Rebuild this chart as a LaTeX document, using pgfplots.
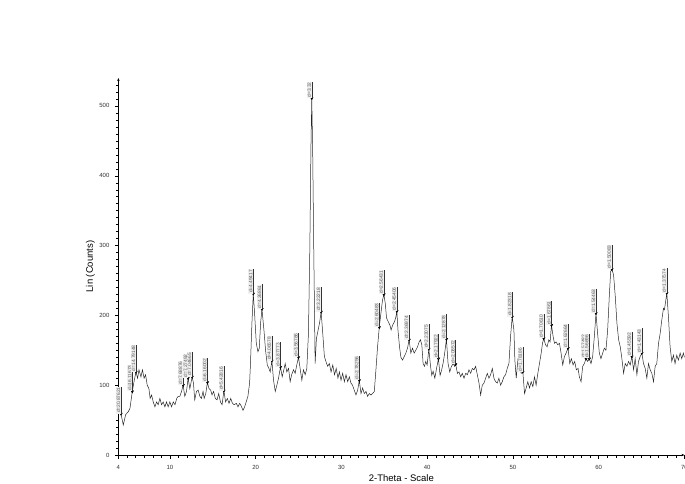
\documentclass[border=0pt]{standalone}
\usepackage{pgfplots}
\pgfplotsset{compat=1.18}
\usepackage{fontspec}
\setmainfont{Liberation Sans}
\usetikzlibrary{arrows.meta}
\begin{document}
\begin{tikzpicture}
\path[use as bounding box] (-118.4pt,-28pt) rectangle (566.6pt,455pt);
\begin{axis}[
  scale only axis, width=566pt, height=377pt,
  xmin=4, xmax=70, ymin=0, ymax=540,
  axis x line=bottom, axis y line=left,
  axis line style={black, line width=0.6pt, -{Stealth[length=3pt,width=2.4pt]}},
  xtick={4,10,20,30,40,50,60,70}, ytick={0,100,200,300,400,500},
  minor xtick={5,6,...,69}, minor ytick={10,20,...,530},
  tick align=outside,
  major tick length=3.5pt, minor tick length=2.5pt,
  tick style={black, line width=0.4pt},
  /pgf/number format/assume math mode=true,
  ticklabel style={font=\fontsize{6}{7}\selectfont, text=black!80},
  xticklabel style={yshift=-3pt},
  yticklabel style={xshift=-2pt},
  xlabel={2-Theta - Scale}, ylabel={Lin (Counts)},
  label style={font=\fontsize{9.5}{11}\selectfont},
  xlabel style={at={(axis description cs:0.5,-0.061)}, anchor=center},
  ylabel style={at={(axis description cs:-0.0495,0.5)}, anchor=center},
  clip=false,
]
\addplot[black!85, line width=0.5pt] coordinates {
(4.0,62) (4.3,59) (4.57,43) (4.85,58) (5.15,62) (5.35,67) (5.62,91) (5.85,107)
(6.05,119) (6.24,110) (6.4,122) (6.63,112) (6.8,122) (7.0,110) (7.17,115) (7.36,100)
(7.56,95) (7.7,81) (7.87,86) (8.06,76) (8.26,69) (8.45,76) (8.64,72) (8.84,81)
(9.03,72) (9.22,76) (9.42,69) (9.61,76) (9.8,69) (10.0,76) (10.2,69) (10.4,76)
(10.6,72) (10.8,81) (10.97,84) (11.16,84) (11.36,91) (11.55,100) (11.74,84) (11.94,91)
(12.13,110) (12.33,95) (12.6,112) (12.75,103) (12.9,79) (13.1,91) (13.3,93) (13.5,84)
(13.68,81) (13.87,91) (14.0,81) (14.19,88) (14.38,104) (14.57,95) (14.76,93) (14.92,86)
(15.1,91) (15.3,81) (15.5,79) (15.7,88) (15.9,76) (16.09,72) (16.3,92) (16.5,76)
(16.7,81) (16.9,74) (17.1,81) (17.3,74) (17.5,72) (17.75,74) (17.94,69) (18.14,74)
(18.33,70) (18.53,64) (18.72,69) (18.9,76) (19.1,84) (19.3,103) (19.4,131) (19.57,189)
(19.73,231) (19.88,203) (20.08,160) (20.27,148) (20.43,153) (20.58,189) (20.74,209) (20.97,179)
(21.16,150) (21.36,129) (21.55,124) (21.7,119) (21.9,135) (22.09,107) (22.29,91) (22.48,100)
(22.67,110) (22.9,126) (23.1,112) (23.29,122) (23.45,131) (23.64,119) (23.84,124) (24.03,105)
(24.2,115) (24.42,122) (24.61,117) (24.8,129) (25.0,140) (25.19,124) (25.39,107) (25.58,122)
(25.78,115) (25.97,124) (26.16,174) (26.32,294) (26.45,440) (26.55,511) (26.66,430) (26.78,294)
(26.94,131) (27.09,167) (27.29,179) (27.48,191) (27.64,205) (27.83,174) (28.02,141) (28.2,134)
(28.4,127) (28.6,131) (28.8,119) (29.0,129) (29.2,115) (29.4,124) (29.6,110) (29.77,119)
(29.96,107) (30.15,117) (30.35,105) (30.54,115) (30.74,105) (30.93,112) (31.12,103) (31.3,100)
(31.5,93) (31.7,86) (31.9,93) (32.09,107) (32.29,88) (32.48,96) (32.67,88) (32.87,91)
(33.06,84) (33.26,88) (33.45,86) (33.64,88) (33.84,91) (34.03,122) (34.22,155) (34.42,183)
(34.61,203) (34.8,222) (34.96,230) (35.12,217) (35.27,196) (35.47,191) (35.66,186) (35.8,179)
(35.97,186) (36.2,191) (36.36,198) (36.47,206) (36.6,179) (36.78,155) (36.94,140) (37.13,136)
(37.33,141) (37.52,146) (37.71,153) (37.9,165) (38.1,146) (38.29,153) (38.49,146) (38.68,150)
(38.88,155) (39.07,162) (39.22,165) (39.38,158) (39.53,131) (39.69,127) (39.84,134) (40.0,129)
(40.2,152) (40.39,128) (40.54,114) (40.7,120) (40.9,110) (41.1,124) (41.32,138) (41.51,114)
(41.7,122) (41.9,134) (42.09,150) (42.25,166) (42.44,131) (42.64,119) (42.83,127) (43.06,131)
(43.2,127) (43.33,130) (43.53,117) (43.72,119) (43.91,112) (44.1,117) (44.3,110) (44.5,117)
(44.69,115) (44.88,122) (45.08,117) (45.27,124) (45.46,122) (45.66,127) (45.85,115) (46.05,103)
(46.24,86) (46.43,100) (46.63,103) (46.82,110) (47.02,117) (47.21,110) (47.4,115) (47.6,124)
(47.79,110) (47.98,105) (48.18,103) (48.37,110) (48.57,100) (48.76,105) (48.95,112) (49.15,115)
(49.34,124) (49.54,131) (49.73,170) (49.92,198) (50.12,179) (50.23,136) (50.39,110) (50.58,136)
(50.78,124) (50.97,117) (51.16,119) (51.36,88) (51.55,96) (51.74,105) (51.94,96) (52.13,105)
(52.33,98) (52.52,112) (52.71,100) (52.91,117) (53.1,131) (53.3,146) (53.45,160) (53.6,167)
(53.8,158) (53.99,155) (54.19,165) (54.34,162) (54.5,186) (54.69,170) (54.85,160) (55.04,162)
(55.23,158) (55.43,160) (55.62,146) (55.81,129) (56.01,141) (56.2,146) (56.43,153) (56.63,131)
(56.82,138) (57.02,129) (57.21,134) (57.4,122) (57.6,124) (57.75,112) (57.95,105) (58.14,127)
(58.33,131) (58.53,138) (58.72,134) (58.91,138) (59.11,131) (59.3,141) (59.5,170) (59.69,203)
(59.88,174) (60.08,146) (60.27,138) (60.47,146) (60.66,153) (60.85,150) (61.05,179) (61.24,227)
(61.4,263) (61.55,266) (61.74,258) (61.94,227) (62.13,189) (62.33,165) (62.52,155) (62.71,138)
(62.91,117) (63.1,131) (63.3,127) (63.49,134) (63.68,129) (63.88,141) (64.07,122) (64.26,138)
(64.46,115) (64.65,134) (64.84,141) (65.04,146) (65.23,131) (65.43,124) (65.62,110) (65.81,131)
(66.01,122) (66.2,117) (66.4,105) (66.59,127) (66.78,131) (66.98,160) (67.17,174) (67.36,193)
(67.56,210) (67.67,208) (67.95,232) (68.14,198) (68.33,155) (68.53,134) (68.72,143) (68.91,131)
(69.11,143) (69.3,136) (69.5,146) (69.69,138) (69.88,146) (70.0,140)
};
\addplot[only marks, mark=triangle*, mark size=1.5pt,
  mark options={rotate=180, fill=black, draw=black},
  nodes near coords, point meta=explicit symbolic,
  every node near coord/.style={rotate=90, anchor=south west,
    font=\fontsize{4.8}{5}\selectfont, text=black!65, fill=black!6,
    inner sep=0.7pt,
    append after command={(\tikzlastnode.south west) edge[black!80, line width=0.4pt] (\tikzlastnode.south east)}},
] coordinates {
(4.3,59) [d=20.87621]
(5.62,91) [d=16.11673]
(6.05,119) [d=14.79148]
(11.55,100) [d=7.68876]
(12.13,110) [d=7.27492]
(12.6,112) [d=7.04665]
(14.38,104) [d=6.16002]
(16.3,92) [d=5.42816]
(19.73,231) [d=4.49417]
(20.74,209) [d=4.26861]
(21.9,135) [d=4.06578]
(22.9,126) [d=3.87773]
(25.0,140) [d=3.56786]
(26.55,511) [d=3.32]
(27.64,205) [d=3.22218]
(32.09,107) [d=2.78256]
(34.42,183) [d=2.60483]
(34.96,230) [d=2.56431]
(36.47,206) [d=2.45406]
(37.9,165) [d=2.36974]
(40.2,152) [d=2.23075]
(41.32,138) [d=2.17922]
(42.25,166) [d=2.12878]
(43.33,130) [d=2.08572]
(49.92,198) [d=1.82318]
(51.16,119) [d=1.78186]
(53.6,167) [d=1.70610]
(54.5,186) [d=1.67861]
(56.43,153) [d=1.62664]
(58.53,138) [d=1.57482]
(58.91,138) [d=1.56696]
(59.69,203) [d=1.54463]
(61.55,266) [d=1.50083]
(63.88,141) [d=1.45592]
(65.04,146) [d=1.43143]
(67.95,232) [d=1.37574]
};
\end{axis}
\end{tikzpicture}
\end{document}
